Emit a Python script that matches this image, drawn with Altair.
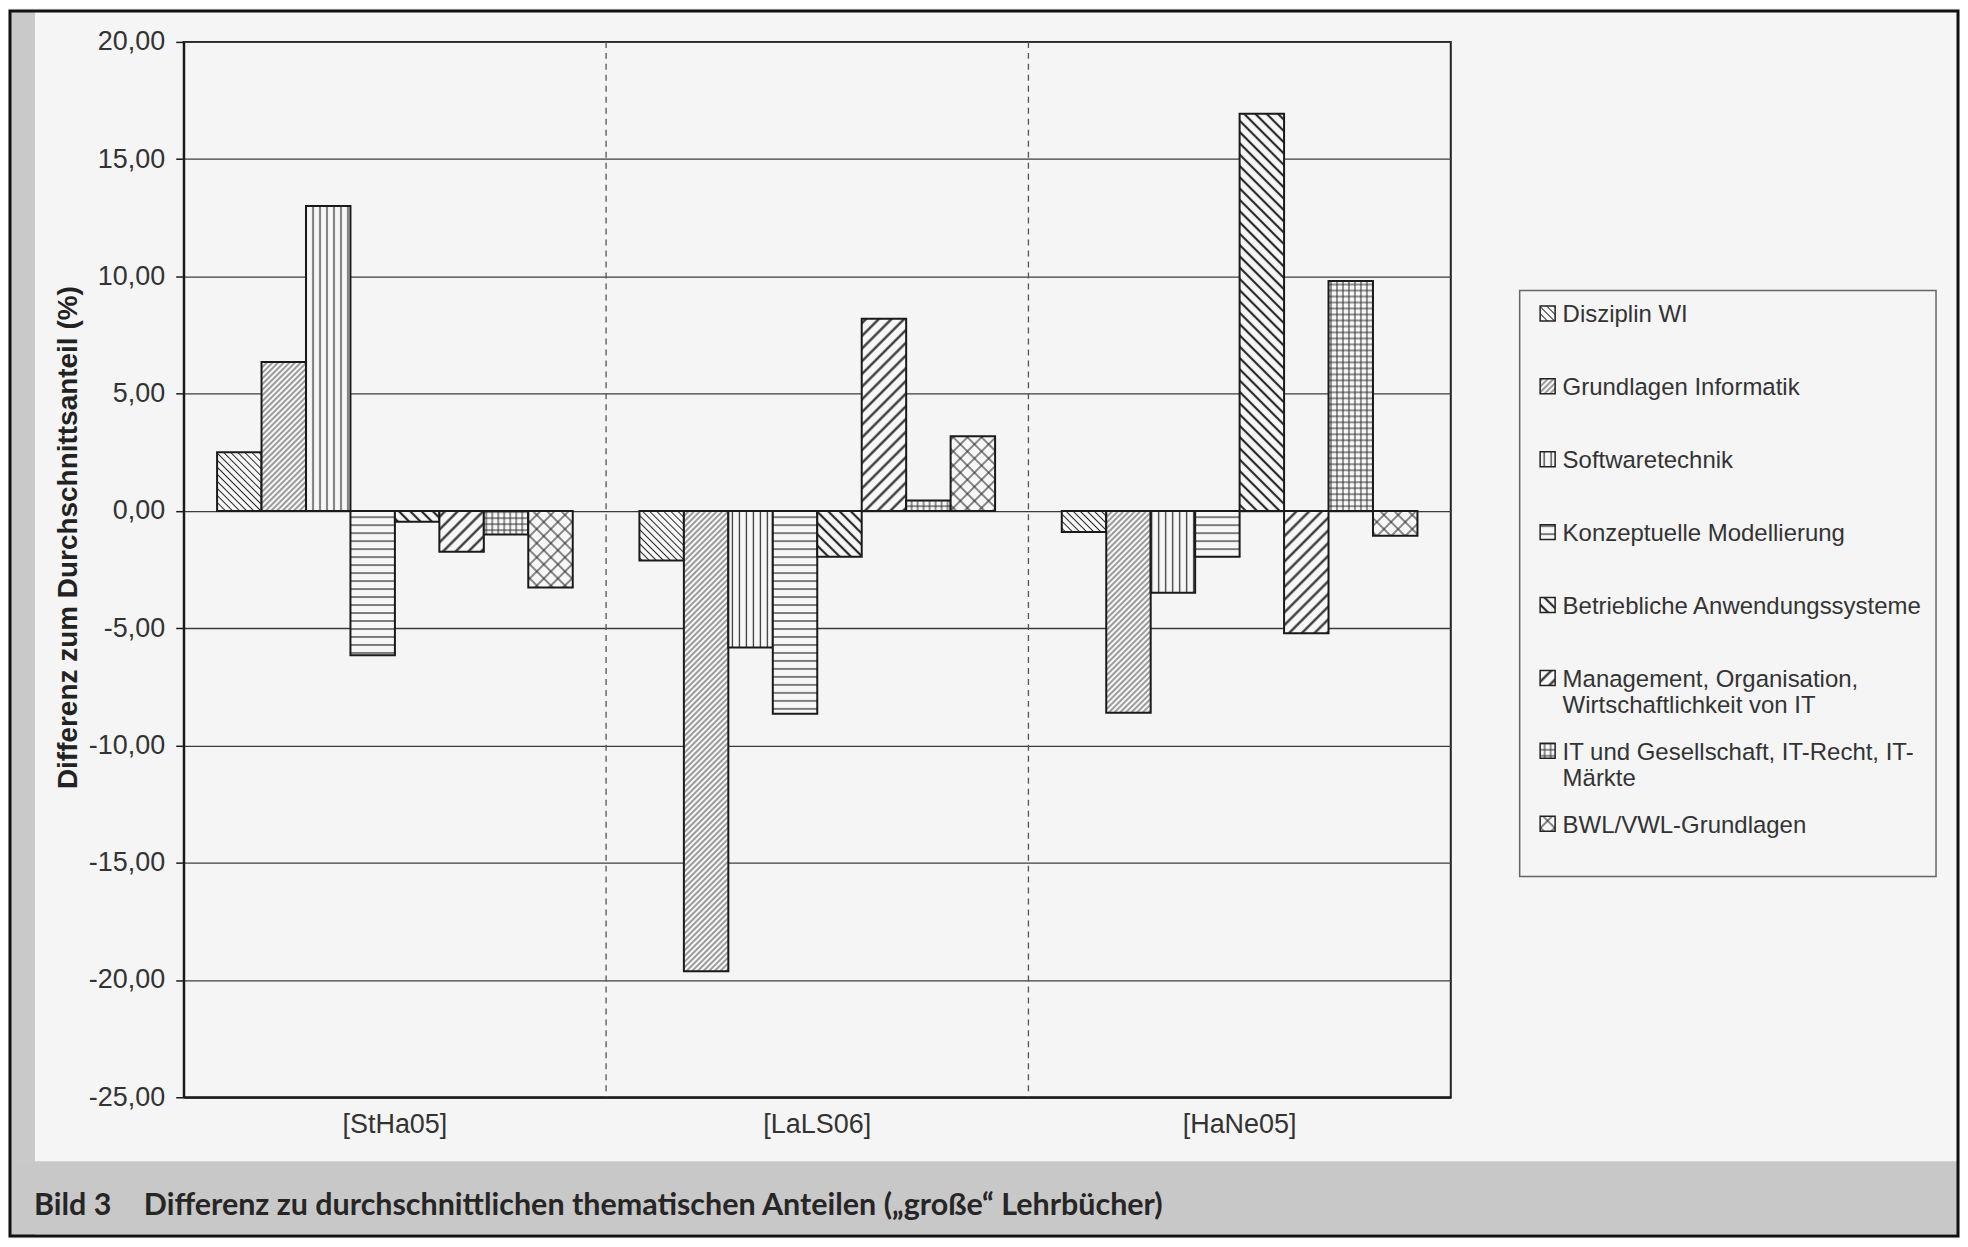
import altair as alt
import pandas as pd
import jinja2

# ---------------- data ----------------
groups = ["[StHa05]", "[LaLS06]", "[HaNe05]"]
topics = [
    "Disziplin WI",
    "Grundlagen Informatik",
    "Softwaretechnik",
    "Konzeptuelle Modellierung",
    "Betriebliche Anwendungssysteme",
    "Management, Organisation, Wirtschaftlichkeit von IT",
    "IT und Gesellschaft, IT-Recht, IT-Märkte",
    "BWL/VWL-Grundlagen",
]
stha05 = [2.50, 6.35, 13.00, -6.15, -0.46, -1.74, -1.00, -3.26]
lals06 = [-2.11, -19.63, -5.82, -8.65, -1.95, 8.20, 0.45, 3.18]
hane05 = [-0.90, -8.60, -3.49, -1.95, 16.94, -5.21, 9.80, -1.06]
y_ticks = [-25, -20, -15, -10, -5, 0, 5, 10, 15, 20]

y_title = "Differenz zum Durchschnittsanteil (%)"
caption_label = "Bild 3"
caption_text = "Differenz zu durchschnittlichen thematischen Anteilen (\u201egro\u00dfe\u201c Lehrb\u00fccher)"

rows = []
for g, vals in zip(groups, [stha05, lals06, hane05]):
    for t, v in zip(topics, vals):
        rows.append({"group": g, "topic": t, "value": v})
df = pd.DataFrame(rows)

# ---------------- hatch patterns (SVG defs) ----------------
# (tile size, rotation, stroke width, kind)
hatch_specs = [
    (5, -45, 1.0, "v"),
    (4, 45, 0.9, "v"),
    (7, 0, 1.2, "v"),
    (8, 0, 1.2, "h"),
    (8, -45, 2.2, "v"),
    (9, 45, 2.2, "v"),
    (6, 0, 1.0, "grid"),
    (10, 45, 1.1, "grid"),
]
ink = "#2a2a2a"
paper = "#f7f7f7"
pat_parts = []
for i, (t, rot, w, kind) in enumerate(hatch_specs):
    h = t / 2
    lines = ""
    if kind in ("v", "grid"):
        lines += f'<line x1="{h}" y1="-1" x2="{h}" y2="{t+1}" stroke="{ink}" stroke-width="{w}"/>'
    if kind in ("h", "grid"):
        lines += f'<line x1="-1" y1="{h}" x2="{t+1}" y2="{h}" stroke="{ink}" stroke-width="{w}"/>'
    pat_parts.append(
        f'<pattern id="hatch{i}" patternUnits="userSpaceOnUse" width="{t}" height="{t}" '
        f'patternTransform="rotate({rot})"><rect x="0" y="0" width="{t}" height="{t}" fill="{paper}"/>'
        f"{lines}</pattern>"
    )
PATTERN_SVG = (
    '<svg width="0" height="0" style="position:absolute;left:0;top:0" aria-hidden="true"><defs>'
    + "".join(pat_parts)
    + "</defs></svg>"
)
fills = [f"url(#hatch{i})" for i in range(len(topics))]

PAGE = jinja2.Template(
    """<!DOCTYPE html>
<html>
<head>
  <meta charset="UTF-8">
  <style>
    #{{ output_div }}.vega-embed { width: 100%; display: flex; }
    #{{ output_div }}.vega-embed details, #{{ output_div }}.vega-embed details summary { position: relative; }
  </style>
  <script type="text/javascript" src="{{ base_url }}/vega@{{ vega_version }}"></script>
  <script type="text/javascript" src="{{ base_url }}/vega-lite@{{ vegalite_version }}"></script>
  <script type="text/javascript" src="{{ base_url }}/vega-embed@{{ vegaembed_version }}"></script>
</head>
<body>
"""
    + PATTERN_SVG
    + """
  <div id="{{ output_div }}"></div>
  <script type="text/javascript">
    (function(vegaEmbed) {
      var spec = {{ spec }};
      var embedOpt = {{ embed_options }};
      function showError(el, error){
        el.innerHTML = ('<div style="color:red;"><p>JavaScript Error: ' + error.message + '</p></div>');
        throw error;
      }
      const el = document.getElementById('{{ output_div }}');
      vegaEmbed("#{{ output_div }}", spec, embedOpt).catch(error => showError(el, error));
    })(vegaEmbed);
  </script>
</body>
</html>
"""
)

# ---------------- chart ----------------
FONT = "Liberation Sans, Arial, sans-serif"
TXT = "#333333"

x_scale = alt.Scale(domain=groups, paddingInner=0, paddingOuter=0)
x_axis = alt.Axis(
    title=None, labelFont=FONT, labelFontSize=27, labelColor=TXT, labelPadding=14,
    labelAngle=0, ticks=False, grid=False, domainColor="#1a1a1a", domainWidth=2,
)
y_axis = alt.Axis(
    values=y_ticks,
    labelExpr="replace(replace(format(datum.value, '.2f'), '.', ','), '\u2212', '-')",
    title=y_title, grid=True, gridColor="#3c3c3c", gridWidth=1.3,
    tickColor="#1a1a1a", tickSize=8, tickWidth=1.5, domainColor="#1a1a1a", domainWidth=2,
    labelFont=FONT, labelFontSize=27, labelColor=TXT, labelPadding=11,
    titleFont=FONT, titleFontSize=28, titleFontWeight="bold", titleColor="#222222",
    titleAngle=270, titleAlign="center", titleBaseline="middle", titleX=-115, titleY=496,
)

legend = alt.Legend(
    title=None, orient="none", legendX=1354, legendY=250,
    labelFont=FONT, labelFontSize=24, labelColor=TXT, labelLimit=600, labelOffset=3,
    labelBaseline="top",
    labelExpr=(
        "datum.label == 'Management, Organisation, Wirtschaftlichkeit von IT' ? "
        "['Management, Organisation,', 'Wirtschaftlichkeit von IT'] : "
        "datum.label == 'IT und Gesellschaft, IT-Recht, IT-M\u00e4rkte' ? "
        "['IT und Gesellschaft, IT-Recht, IT-', 'M\u00e4rkte'] : datum.label"
    ),
    symbolType="M-1,0.33H1V2.33H-1Z", symbolSize=225,
    symbolStrokeColor="#222222", symbolStrokeWidth=1.5,
    gridAlign="all", rowPadding=11, padding=0,
)

bars = alt.Chart(df).mark_bar(stroke="#1a1a1a", strokeWidth=2).encode(
    x=alt.X("group:N", scale=x_scale, axis=x_axis),
    xOffset=alt.XOffset("topic:N", scale=alt.Scale(domain=topics, paddingInner=0, paddingOuter=0.75)),
    y=alt.Y("value:Q", scale=alt.Scale(domain=[-25, 20], nice=False), axis=y_axis),
    color=alt.Color("topic:N", scale=alt.Scale(domain=topics, range=fills), legend=legend),
)

rules = alt.Chart(pd.DataFrame({"group": groups[1:]})).mark_rule(
    strokeDash=[6, 5], color="#555555", strokeWidth=1.3
).encode(x=alt.X("group:N", scale=x_scale, axis=x_axis, bandPosition=0))

dummy = pd.DataFrame({"d": [0]})
strip = alt.Chart(dummy).mark_rect(color="#c9c9c9").encode(
    x=alt.value(-173), x2=alt.value(-149), y=alt.value(-30), y2=alt.value(1195)
)
band = alt.Chart(dummy).mark_rect(color="#c8c8c8").encode(
    x=alt.value(-173), x2=alt.value(1776), y=alt.value(1121), y2=alt.value(1194)
)
legend_box = alt.Chart(dummy).mark_rect(fillOpacity=0, stroke="#666666", strokeWidth=1.5).encode(
    x=alt.value(1338), x2=alt.value(1755), y=alt.value(249), y2=alt.value(836)
)
frame = alt.Chart(dummy).mark_rect(fillOpacity=0, stroke="#111111", strokeWidth=3).encode(
    x=alt.value(-174), x2=alt.value(1777), y=alt.value(-31), y2=alt.value(1196)
)
cap1 = alt.Chart(dummy).mark_text(
    align="left", baseline="alphabetic", font="Lato, sans-serif", fontSize=30.5,
    fontWeight="bold", color="#262626",
).encode(x=alt.value(-150), y=alt.value(1175), text=alt.value(caption_label))
cap2 = alt.Chart(dummy).mark_text(
    align="left", baseline="alphabetic", font="Lato, sans-serif", fontSize=30.5,
    fontWeight="bold", color="#262626",
).encode(x=alt.value(-40), y=alt.value(1175), text=alt.value(caption_text))

chart = (
    alt.layer(strip, band, legend_box, rules, bars, frame, cap1, cap2)
    .properties(width=1269, height=1057, padding=0, background="#f5f5f5")
    .configure_view(stroke="#222222", strokeWidth=2)
)

chart.save("out.html", embed_options={"renderer": "svg", "actions": False}, template=PAGE)
